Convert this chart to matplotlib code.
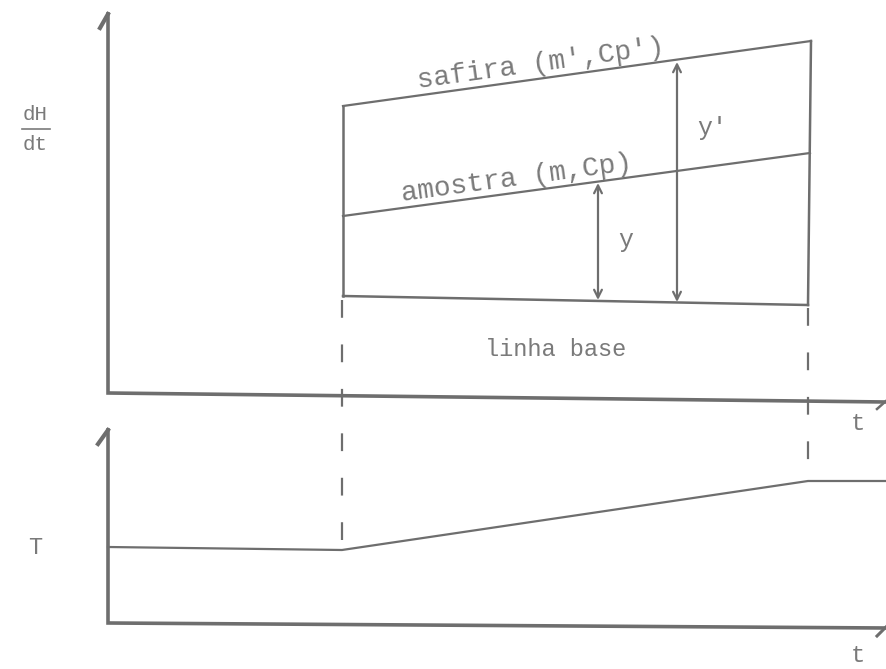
import matplotlib
matplotlib.use("Agg")
import matplotlib.pyplot as plt

# drawing coordinates (picture units, y grows downwards)
axis_top_x = [108, 108, 886]
axis_top_y = [14, 393, 402]
axis_bot_x = [108, 108, 886]
axis_bot_y = [430, 623, 628]

safira_x = [343, 811]
safira_y = [106, 41]
amostra_x = [343, 810]
amostra_y = [216, 153]
base_x = [343, 808]
base_y = [296, 305]
box_left_x = [343, 343]
box_left_y = [106, 296]
box_right_x = [811, 808]
box_right_y = [41, 305]

dash_left_x = [342, 342]
dash_left_y = [300, 548]
dash_right_x = [808, 808]
dash_right_y = [308, 480]

temp_x = [108, 342, 808, 886]
temp_y = [547, 550, 481, 481]

arrow_y = (598, 183, 300)
arrow_yp = (677, 62, 302)

grey = "#6e6e6e"
font = "Liberation Mono"

fig = plt.figure(figsize=(8.86, 6.69), dpi=100)
ax = fig.add_axes([0, 0, 1, 1])
ax.set_xlim(0, 886)
ax.set_ylim(669, 0)
ax.axis("off")

# axes
ax.plot(axis_top_x, axis_top_y, color=grey, lw=2.6, solid_joinstyle="miter")
ax.plot(axis_bot_x, axis_bot_y, color=grey, lw=2.6, solid_joinstyle="miter")
ax.plot([100, 108], [28, 14], color=grey, lw=3)
ax.plot([98, 108], [444, 430], color=grey, lw=3)
ax.plot([877, 886], [409, 401], color=grey, lw=1.8)
ax.plot([877, 886], [636, 627], color=grey, lw=2.2)

# box of the dH/dt panel
ax.plot(safira_x, safira_y, color=grey, lw=1.6)
ax.plot(amostra_x, amostra_y, color=grey, lw=1.6)
ax.plot(base_x, base_y, color=grey, lw=1.8)
ax.plot(box_left_x, box_left_y, color=grey, lw=1.8)
ax.plot(box_right_x, box_right_y, color=grey, lw=1.8)

ax.plot(dash_left_x, dash_left_y, color=grey, lw=1.6, dashes=(8, 12))
ax.plot(dash_right_x, dash_right_y, color=grey, lw=1.6, dashes=(8, 12))

ax.plot(temp_x, temp_y, color=grey, lw=1.6)

for x, y0, y1 in (arrow_y, arrow_yp):
    ax.annotate("", xy=(x, y0), xytext=(x, y1),
                arrowprops=dict(arrowstyle="<->", color=grey, lw=1.6,
                                shrinkA=0, shrinkB=0, mutation_scale=14))

txt = dict(family=font, color="#7a7a7a", ha="center", va="center")
ax.text(541, 64, "safira (m',Cp')", fontsize=20, rotation=7.9, **txt)
ax.text(517, 179, "amostra (m,Cp)", fontsize=20, rotation=7.7, **txt)
ax.text(626, 240, "y", fontsize=18, **txt)
ax.text(712, 128, "y'", fontsize=18, **txt)
ax.text(556, 350, "linha base", fontsize=17, **txt)
ax.text(858, 424, "t", fontsize=17, **txt)
ax.text(858, 656, "t", fontsize=17, **txt)
ax.text(35, 548, "T", fontsize=17, **txt)
ax.text(35, 114, "dH", fontsize=15, **txt)
ax.text(35, 145, "dt", fontsize=15, **txt)
ax.plot([22, 50], [129, 129], color="#7a7a7a", lw=1.2)

fig.savefig("out.png", dpi=100)
